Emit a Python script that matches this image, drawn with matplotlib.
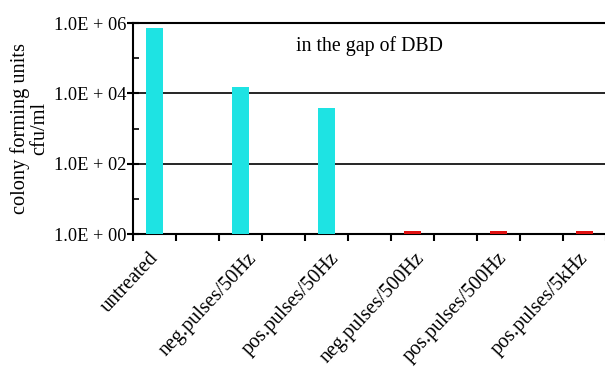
import numpy as np
import matplotlib
matplotlib.use("Agg")
import matplotlib.pyplot as plt
import matplotlib.transforms as mtransforms
from matplotlib.ticker import FixedLocator, FuncFormatter, NullFormatter

plt.rcParams["font.family"] = ["Liberation Serif", "DejaVu Serif"]

# one slot per category, bars every second slot
labels = ["untreated", "neg.pulses/50Hz", "pos.pulses/50Hz",
          "neg.pulses/500Hz", "pos.pulses/500Hz", "pos.pulses/5kHz"]
values = [7.4e5, 1.5e4, 3.9e3, 1.22, 1.22, 1.22]
colors = ["#1EE3E3", "#1EE3E3", "#1EE3E3", "#E01010", "#E01010", "#E01010"]
slots = [0, 2, 4, 6, 8, 10]
# small horizontal nudges of the rotated labels (in slot units)
label_nudge = [0.0, 0.28, 0.21, 0.19, 0.12, 0.0]

fig = plt.figure(figsize=(6.05, 3.74), dpi=100)
ax = fig.add_axes([0.2198, 0.3743, 0.7815, 0.5642])

# bars start at 1 (log axis bottom)
ax.bar(slots, np.array(values) - 1.0, width=0.4, color=colors, bottom=1.0, zorder=3)

ax.set_yscale("log")
ax.set_ylim(1, 1e6)
ax.set_xlim(-0.5, 10.5)

ax.yaxis.set_major_locator(FixedLocator([1, 1e2, 1e4, 1e6]))
ax.yaxis.set_minor_locator(FixedLocator([1e1, 1e3, 1e5]))
ax.yaxis.set_major_formatter(FuncFormatter(lambda v, p: "1.0E + %02d" % round(np.log10(v))))
ax.yaxis.set_minor_formatter(NullFormatter())
ax.tick_params(axis="y", which="major", direction="inout", length=8, width=1.5, labelsize=13.2, pad=1)
ax.tick_params(axis="y", which="minor", direction="in", length=4, width=1.2)

for yv in [1e2, 1e4]:
    ax.axhline(yv, color="black", lw=1.2, zorder=1)

ax.set_xticks(np.arange(-0.5, 10.6, 1.0))
ax.set_xticklabels([])
ax.tick_params(axis="x", which="major", direction="out", length=5, width=1.5)

trans = mtransforms.blended_transform_factory(ax.transData, ax.transAxes)
for s, lab, dx in zip(slots, labels, label_nudge):
    ax.text(s + 0.18 + dx, -0.07, lab, rotation=47, ha="right", va="top",
            fontsize=14.5, transform=trans)

ax.spines["right"].set_visible(False)
for sp in ["left", "bottom", "top"]:
    ax.spines[sp].set_linewidth(1.5)

ax.set_ylabel("colony forming units\ncfu/ml", fontsize=14.7, labelpad=3, linespacing=1.0)

ax.text(0.5, 0.89, "in the gap of DBD", transform=ax.transAxes, fontsize=14.3,
        ha="center", va="center")

fig.savefig("out.png", dpi=100)
